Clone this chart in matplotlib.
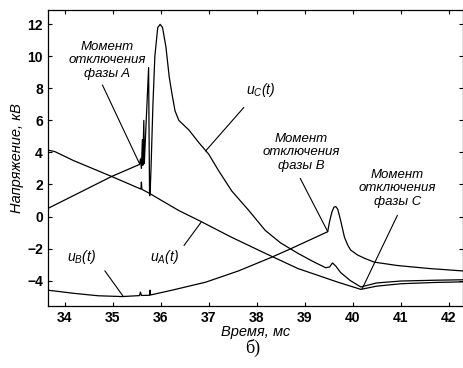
import matplotlib
matplotlib.use("Agg")
import matplotlib.pyplot as plt

plt.rcParams["font.family"] = ["Liberation Sans", "DejaVu Sans"]
plt.rcParams["mathtext.fontset"] = "custom"
plt.rcParams["mathtext.it"] = "Liberation Sans:italic"
plt.rcParams["mathtext.rm"] = "Liberation Sans:italic"

# фаза A
tA = [33.65, 33.8, 34.18, 34.98, 35.56, 35.59, 35.6, 35.61, 35.77, 36.38, 36.8,
      37.48, 38.18, 38.86, 39.3, 39.69, 40.17, 40.5, 41.0, 41.7, 42.3]
uA = [4.15, 4.05, 3.5, 2.5, 1.75, 1.72, 2.15, 1.7, 1.44, 0.37, -0.25,
      -1.3, -2.3, -3.25, -3.7, -4.1, -4.55, -4.35, -4.2, -4.12, -4.08]

# фаза B
tB = [33.65, 34.2, 34.7, 35.2, 35.56, 35.58, 35.6, 35.77, 35.78, 35.79, 36.24,
      36.94, 37.62, 38.3, 38.72, 39.48, 39.52, 39.57, 39.61, 39.65, 39.69, 39.75,
      39.83, 39.9, 39.96, 40.1, 40.24, 40.45, 40.93, 41.6, 42.3]
uB = [-4.6, -4.8, -4.95, -5.0, -4.94, -4.72, -4.93, -4.92, -4.6, -4.9, -4.6,
      -4.1, -3.4, -2.56, -2.0, -0.95, -0.3, 0.3, 0.58, 0.62, 0.45, -0.25,
      -1.3, -1.8, -2.1, -2.4, -2.6, -2.85, -3.06, -3.25, -3.4]

# фаза C
tC = [33.65, 34.98, 35.56, 35.58, 35.6, 35.62, 35.63, 35.65, 35.66, 35.75,
      35.76, 35.77, 35.78, 35.8, 35.84, 35.88, 35.94, 35.99, 36.04, 36.11,
      36.18, 36.24, 36.3, 36.38, 36.59, 36.8, 37.0, 37.2, 37.48, 37.83, 38.18,
      38.5, 38.86, 39.2, 39.44, 39.52, 39.58, 39.65, 39.75, 39.95, 40.17,
      40.5, 41.0, 41.7, 42.3]
uC = [0.5, 2.5, 3.25, 3.6, 3.0, 4.8, 3.2, 6.0, 3.3, 9.3,
      5.0, 1.3, 1.35, 3.0, 7.0, 10.0, 11.8, 12.0, 11.8, 10.6,
      8.7, 7.6, 6.6, 6.0, 5.4, 4.6, 3.9, 2.9, 1.6, 0.4, -0.87,
      -1.65, -2.3, -2.85, -3.2, -3.15, -2.9, -3.1, -3.5, -4.0, -4.4,
      -4.15, -4.03, -3.98, -3.95]

fig = plt.figure(figsize=(4.64, 3.68), dpi=100)
ax = fig.add_axes([0.103, 0.168, 0.895, 0.805])

for t, u in [(tA, uA), (tB, uB), (tC, uC)]:
    ax.plot(t, u, color="black", lw=0.9)

ax.set_xlim(33.65, 42.3)
ax.set_ylim(-5.6, 12.9)
ax.set_xticks(range(34, 43))
ax.set_yticks(range(-4, 13, 2))
ax.tick_params(axis="x", direction="in", length=3, labelsize=10, top=True)
ax.tick_params(axis="y", direction="in", length=3, labelsize=10, right=True)
for lab in ax.get_xticklabels() + ax.get_yticklabels():
    lab.set_fontweight("bold")
for s in ax.spines.values():
    s.set_linewidth(0.9)

ax.set_xlabel("Время, мс", fontsize=10.5, style="italic", labelpad=0)
ax.set_ylabel("Напряжение, кВ", fontsize=10.5, style="italic", labelpad=2)
fig.text(0.545, 0.04, "б)", fontsize=13, family="Liberation Serif", ha="center")

txt = dict(fontsize=9.5, style="italic", ha="center", va="center", linespacing=1.2)
ax.text(34.88, 9.75, "Момент\nотключения\nфазы A", **txt)
ax.text(38.93, 4.0, "Момент\nотключения\nфазы B", **txt)
ax.text(40.93, 1.75, "Момент\nотключения\nфазы C", **txt)
ax.text(38.08, 7.9, "$u_C(t)$", fontsize=10, ha="center", va="center")
ax.text(34.36, -2.56, "$u_B(t)$", fontsize=10, ha="center", va="center")
ax.text(36.07, -2.56, "$u_A(t)$", fontsize=10, ha="center", va="center")

lines = [((34.79, 8.2), (35.56, 3.3)),
         ((37.73, 6.8), (36.94, 4.1)),
         ((38.91, 2.37), (39.48, -0.94)),
         ((40.93, 0.06), (40.2, -4.5)),
         ((34.84, -3.4), (35.21, -4.94)),
         ((36.49, -1.8), (36.84, -0.37))]
for p0, p1 in lines:
    ax.plot([p0[0], p1[0]], [p0[1], p1[1]], color="black", lw=0.8)

fig.savefig("out.png", dpi=100)
